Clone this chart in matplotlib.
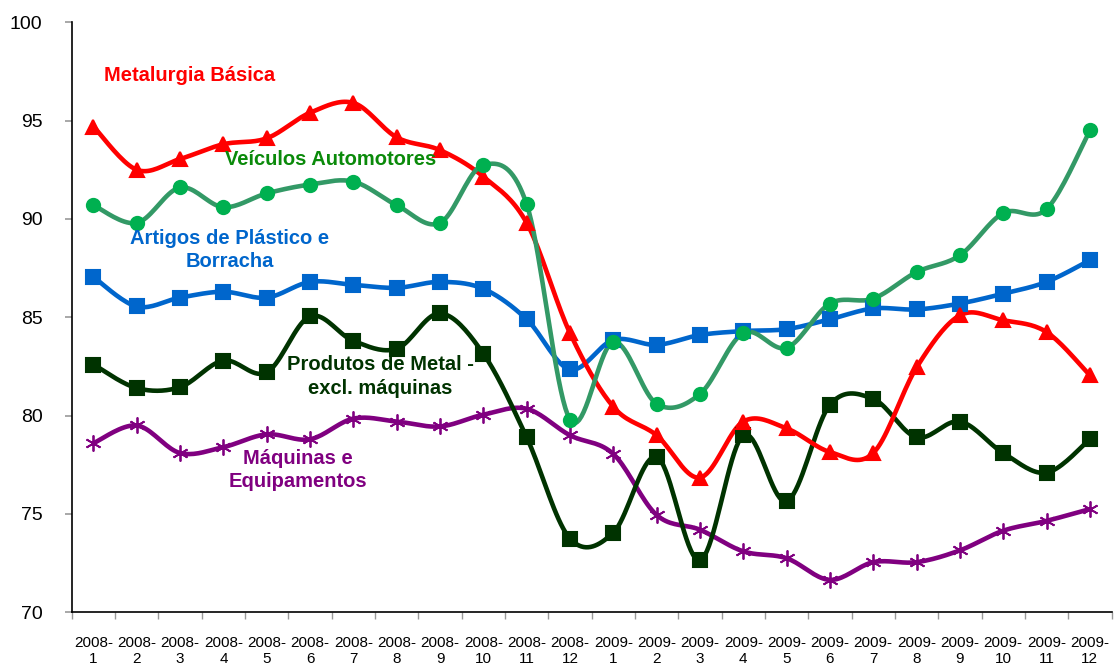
import numpy as np
import matplotlib.pyplot as plt

plt.rcParams['font.family'] = ['Liberation Sans', 'DejaVu Sans']

# months 2008-1 .. 2009-12
meses = [f"{ano}-\n{m}" for ano in (2008, 2009) for m in range(1, 13)]

metalurgia = [94.7, 92.5, 93.05, 93.8, 94.1, 95.4, 95.9, 94.15, 93.5, 92.15, 89.8, 84.2,
              80.45, 79.0, 76.85, 79.7, 79.35, 78.15, 78.1, 82.45, 85.1, 84.85, 84.25, 82.05]
veiculos = [90.7, 89.8, 91.6, 90.6, 91.3, 91.75, 91.9, 90.7, 89.8, 92.75, 90.75, 79.8,
            83.75, 80.6, 81.1, 84.2, 83.45, 85.7, 85.95, 87.3, 88.15, 90.3, 90.5, 94.5]
plastico = [87.05, 85.55, 86.0, 86.3, 86.0, 86.8, 86.65, 86.5, 86.8, 86.45, 84.9, 82.35,
            83.85, 83.6, 84.1, 84.3, 84.4, 84.9, 85.45, 85.4, 85.7, 86.2, 86.8, 87.9]
prod_metal = [82.6, 81.4, 81.45, 82.8, 82.2, 85.05, 83.8, 83.4, 85.2, 83.15, 78.9, 73.75,
              74.05, 77.9, 72.65, 79.0, 75.65, 80.55, 80.85, 78.9, 79.7, 78.1, 77.1, 78.8]
maquinas = [78.6, 79.5, 78.1, 78.4, 79.05, 78.8, 79.85, 79.7, 79.45, 80.05, 80.35, 79.0,
            78.05, 74.95, 74.2, 73.1, 72.75, 71.65, 72.55, 72.55, 73.15, 74.15, 74.65, 75.25]


def suaviza(x, y, n=20):
    # bezier segments with catmull-rom style control points (like excel smoothed lines)
    x = np.asarray(x, float)
    y = np.asarray(y, float)
    px = np.concatenate([[x[0]], x, [x[-1]]])
    py = np.concatenate([[y[0]], y, [y[-1]]])
    t = np.linspace(0, 1, n)[:, None]
    xs, ys = [], []
    for i in range(len(x) - 1):
        p0 = np.array([px[i + 1], py[i + 1]])
        p3 = np.array([px[i + 2], py[i + 2]])
        c1 = p0 + (p3 - np.array([px[i], py[i]])) / 6
        c2 = p3 - (np.array([px[i + 3], py[i + 3]]) - p0) / 6
        pts = ((1 - t) ** 3) * p0 + 3 * ((1 - t) ** 2) * t * c1 + 3 * (1 - t) * t ** 2 * c2 + t ** 3 * p3
        xs.append(pts[:, 0])
        ys.append(pts[:, 1])
    return np.concatenate(xs), np.concatenate(ys)


fig = plt.figure(figsize=(11.18, 6.65), dpi=100)
ax = fig.add_axes([0.0642, 0.0792, 0.93, 0.8873])

x = np.arange(len(meses))

series = [
    (plastico, '#0066CC', '#0066CC', 's', 9.5, 1.5),
    (maquinas, '#800080', '#800080', (6, 2, 0), 11.5, 1.3),
    (prod_metal, '#003300', '#003300', 's', 10, 1.5),
    (metalurgia, '#FF0000', '#FF0000', '^', 9.5, 1.5),
    (veiculos, '#339966', '#00B050', 'o', 9.5, 1.5),
]
for vals, cor_linha, cor_marca, marca, ms, mew in series:
    sx, sy = suaviza(x, vals)
    ax.plot(sx, sy, color=cor_linha, lw=3.3, solid_capstyle='round', zorder=2)
    ax.plot(x, vals, linestyle='none', marker=marca, ms=ms, color=cor_marca,
            markeredgecolor=cor_marca, markeredgewidth=mew, zorder=3)

# series labels
rot = dict(fontsize=14.5, fontweight='bold', ha='center', va='center', linespacing=1.3)
ax.text(2.22, 97.3, 'Metalurgia Básica', color='#FF0000', **rot)
ax.text(5.47, 93.0, 'Veículos Automotores', color='#0A8A0A', **rot)
ax.text(3.14, 88.42, 'Artigos de Plástico e\nBorracha', color='#0066CC', **rot)
ax.text(6.62, 82.0, 'Produtos de Metal -\nexcl. máquinas', color='#003300', **rot)
ax.text(4.71, 77.23, 'Máquinas e\nEquipamentos', color='#800080', **rot)

ax.set_xlim(-0.5, len(meses) - 0.5)
ax.set_ylim(70, 100)
ax.set_yticks(range(70, 101, 5))
ax.tick_params(axis='y', labelsize=14, length=5, width=1.2, color='#999999', pad=16)

ax.set_xticks(x)
ax.set_xticklabels(meses, fontsize=11, linespacing=1.15)
ax.set_xticks(np.arange(-0.5, len(meses)), minor=True)
ax.tick_params(axis='x', which='major', length=0, pad=17)
ax.tick_params(axis='x', which='minor', length=5, width=1, color='#999999')

for lado in ('top', 'right'):
    ax.spines[lado].set_visible(False)
ax.spines['left'].set_linewidth(1.2)
ax.spines['bottom'].set_linewidth(1.2)

fig.savefig('out.png', dpi=100)
